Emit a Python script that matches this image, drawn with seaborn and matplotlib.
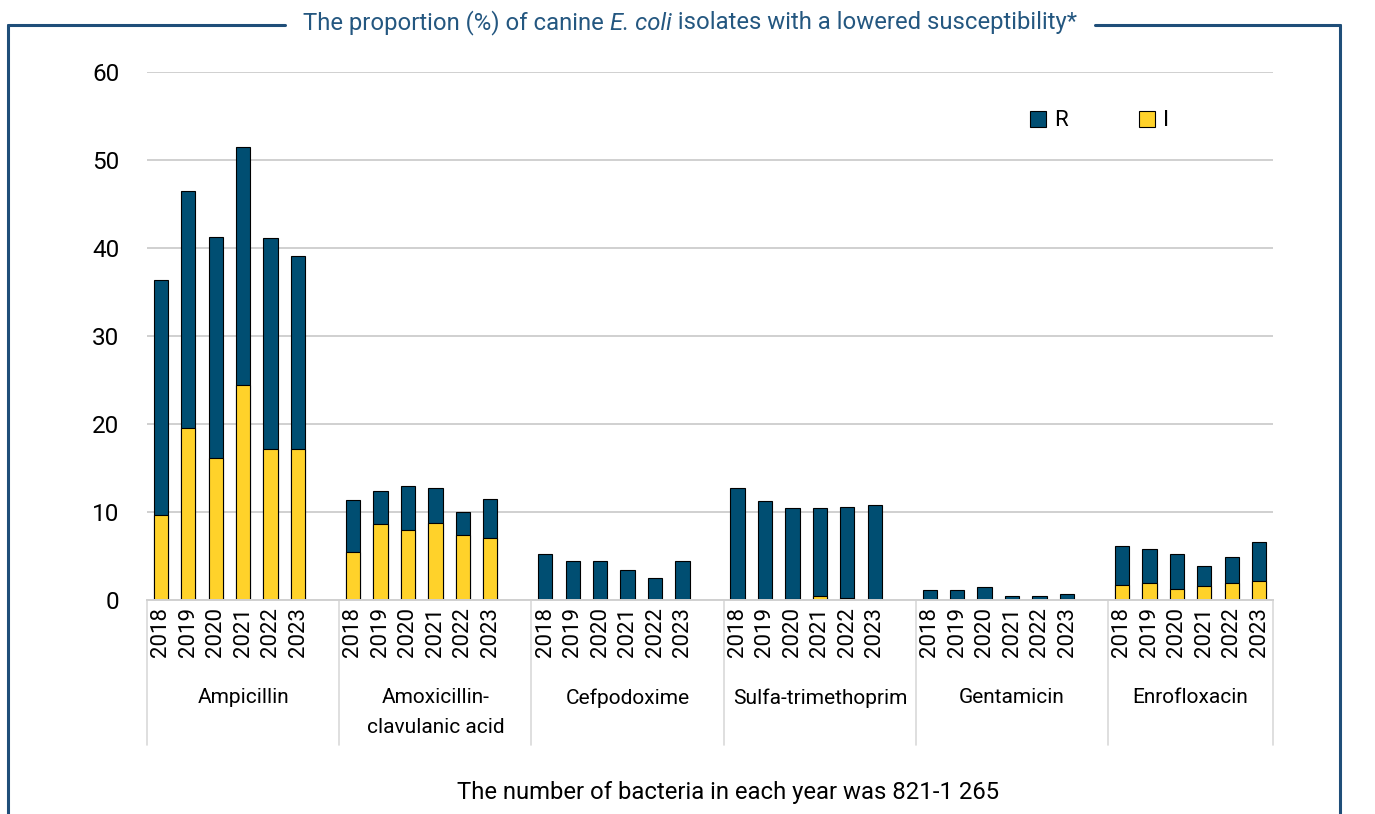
import numpy as np
import pandas as pd
import matplotlib.pyplot as plt
import matplotlib.transforms as mtransforms
from matplotlib.lines import Line2D
from matplotlib.patches import Patch
import seaborn as sns

sns.set_style("white")
plt.rcParams['font.family'] = ['Roboto', 'DejaVu Sans']
plt.rcParams['text.color'] = 'black'
plt.rcParams['xtick.color'] = 'black'
plt.rcParams['ytick.color'] = 'black'

# data (% of isolates)
antibiotics = ["Ampicillin", "Amoxicillin-\nclavulanic acid", "Cefpodoxime",
               "Sulfa-trimethoprim", "Gentamicin", "Enrofloxacin"]
years = ["2018", "2019", "2020", "2021", "2022", "2023"]

amp_R = [26.7, 26.9, 25.2, 27.1, 23.9, 21.9]
amp_I = [9.7, 19.6, 16.1, 24.4, 17.2, 17.2]
amox_R = [5.9, 3.8, 5.0, 3.9, 2.6, 4.4]
amox_I = [5.5, 8.6, 8.0, 8.8, 7.4, 7.1]
cef_R = [5.2, 4.4, 4.4, 3.4, 2.5, 4.4]
cef_I = [0, 0, 0, 0, 0, 0]
sxt_R = [12.7, 11.2, 10.4, 10.0, 10.4, 10.8]
sxt_I = [0, 0, 0.1, 0.5, 0.2, 0]
gen_R = [1.1, 1.0, 1.5, 0.5, 0.4, 0.6]
gen_I = [0, 0.1, 0, 0, 0, 0.1]
enr_R = [4.4, 3.9, 3.9, 2.3, 3.0, 4.4]
enr_I = [1.7, 1.9, 1.3, 1.6, 1.9, 2.2]

R_all = [amp_R, amox_R, cef_R, sxt_R, gen_R, enr_R]
I_all = [amp_I, amox_I, cef_I, sxt_I, gen_I, enr_I]

rows = []
for g, name in enumerate(antibiotics):
    for j, yr in enumerate(years):
        rows.append({"antibiotic": name, "year": yr,
                     "pos": g * 7 + j + 0.5,
                     "R": R_all[g][j], "I": I_all[g][j]})
df = pd.DataFrame(rows)
df["total"] = df["R"] + df["I"]

dark = "#004E72"
yellow = "#FFD22A"
frame_col = "#1F4E79"
title_col = "#245780"
grid_col = "#D0D0D0"

fig = plt.figure(figsize=(13.75, 8.14), dpi=100)
ax = fig.add_axes([147/1375, 1 - 600/814, 1126/1375, 528/814])

sns.barplot(data=df, x="pos", y="total", native_scale=True, color=dark,
            edgecolor="black", linewidth=0.8, width=0.52, errorbar=None,
            saturation=1, ax=ax)
sns.barplot(data=df, x="pos", y="I", native_scale=True, color=yellow,
            edgecolor="black", linewidth=0.8, width=0.52, errorbar=None,
            saturation=1, ax=ax)

ax.set_xlim(0, 41)
ax.set_ylim(0, 60)
ax.set_yticks(range(0, 61, 10))
ax.yaxis.grid(True, color=grid_col, lw=1.4)
ax.set_axisbelow(True)
for s in ["top", "right", "left"]:
    ax.spines[s].set_visible(False)
ax.spines["bottom"].set_color(grid_col)
ax.spines["bottom"].set_linewidth(1.4)
ax.set_xlabel("")
ax.set_ylabel("")
ax.set_xticks(df["pos"])
ax.set_xticklabels(df["year"], rotation=90, fontsize=16)
ax.tick_params(axis="x", length=0, pad=5)
ax.tick_params(axis="y", length=0, labelsize=17.5, pad=20)

# group labels and separators below the axis
trans = mtransforms.blended_transform_factory(ax.transData, ax.transAxes)
bounds = [0, 7, 14, 21, 28, 35, 41]
for b in bounds:
    ax.plot([b, b], [0, -0.275], transform=trans, color="#D9D9D9",
            lw=1.2, clip_on=False)
for g, name in enumerate(antibiotics):
    mid = (bounds[g] + bounds[g + 1]) / 2
    ax.text(mid, -0.167, name, transform=trans, ha="center", va="top",
            fontsize=15, linespacing=1.7)

# legend
handles = [Patch(facecolor=dark, edgecolor="black", lw=0.8, label="R"),
           Patch(facecolor=yellow, edgecolor="black", lw=0.8, label="I")]
ax.legend(handles=handles, ncol=2, loc="upper left",
          bbox_to_anchor=(0.766, 0.965), frameon=False, fontsize=16,
          handlelength=0.75, handleheight=0.75, handletextpad=0.35,
          columnspacing=3.2)

# frame around the chart with the title in the top line
lw = 2.2
ytop = 1 - 25/814
fig.add_artist(Line2D([8/1375, 8/1375], [0, ytop], color=frame_col, lw=lw))
fig.add_artist(Line2D([1340/1375, 1340/1375], [0, ytop], color=frame_col, lw=lw))
fig.add_artist(Line2D([8/1375, 285/1375], [ytop, ytop], color=frame_col, lw=lw))
fig.add_artist(Line2D([1095/1375, 1340/1375], [ytop, ytop], color=frame_col, lw=lw))

# title with italic species name, laid out piece by piece
parts = [("The proportion (%) of canine ", "normal"),
         ("E. coli", "italic"),
         (" isolates with a lowered susceptibility*", "normal")]
renderer = fig.canvas.get_renderer()
texts = [fig.text(0, 1 - 23/814, s, style=st, fontsize=17.2, color=title_col,
                  ha="left", va="center") for s, st in parts]
widths = [t.get_window_extent(renderer).width for t in texts]
x0 = 690 - sum(widths) / 2
for t, w in zip(texts, widths):
    t.set_x(x0 / 1375)
    x0 += w

fig.text(728/1375, 1 - 792/814, "The number of bacteria in each year was 821-1 265",
         ha="center", va="center", fontsize=17.2)

fig.savefig("out.png", dpi=100)
